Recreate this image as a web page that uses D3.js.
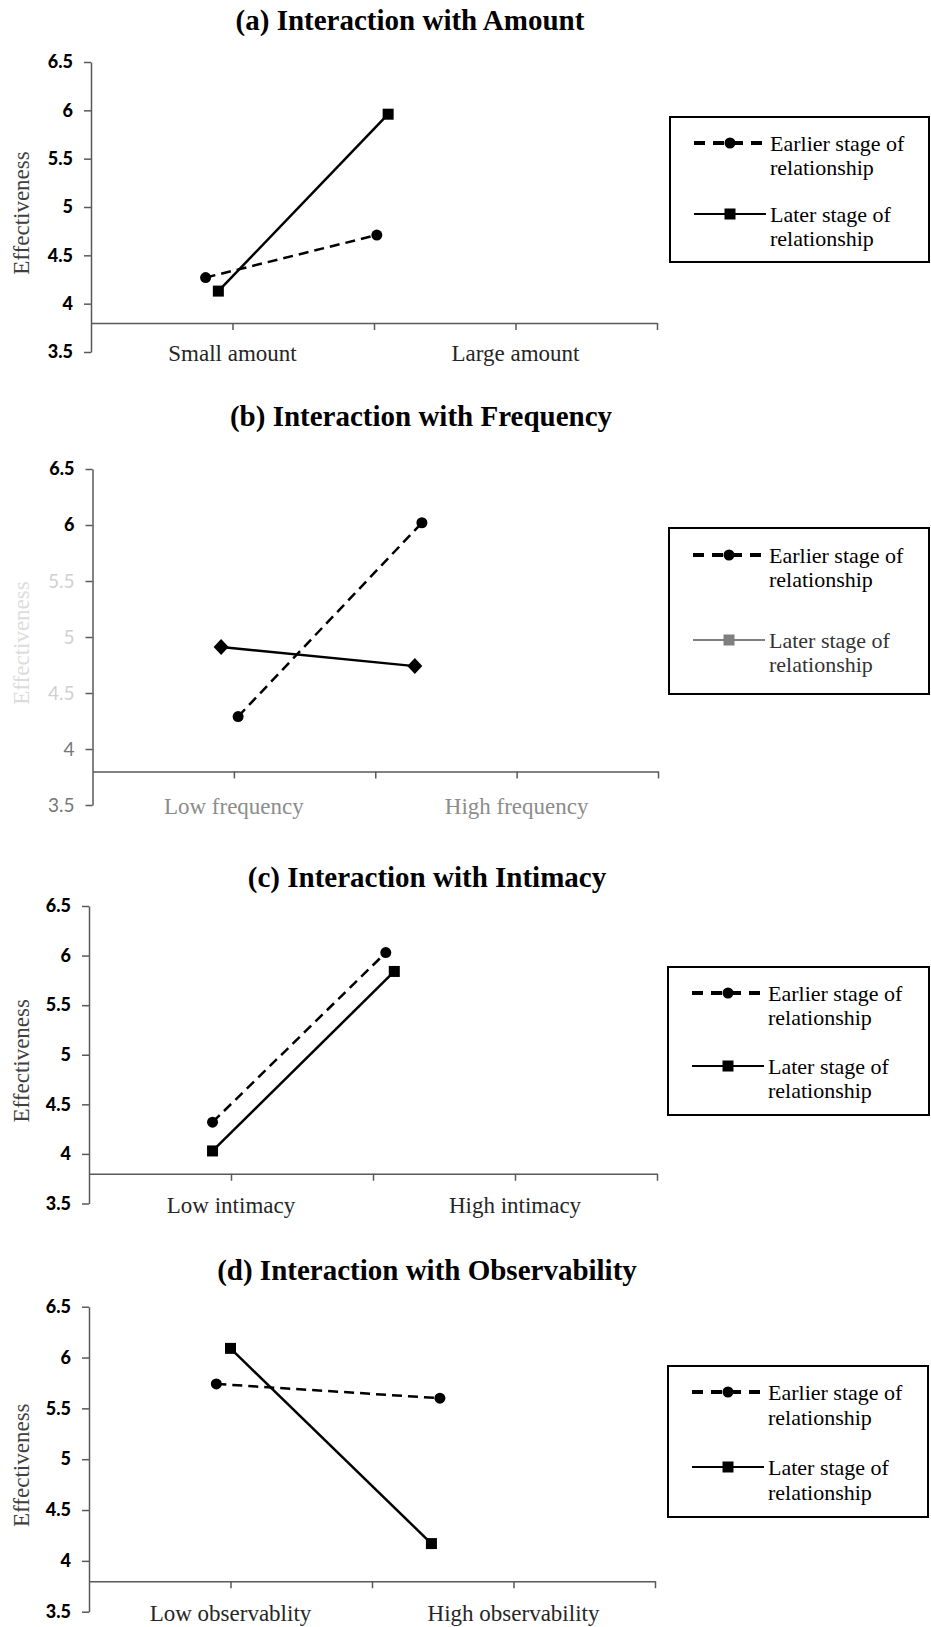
<!DOCTYPE html>
<html>
<head>
<meta charset="utf-8">
<style>
  body { margin: 0; background: #fff; }
  svg { display: block; }
</style>
<script src="https://cdn.jsdelivr.net/npm/d3@7"></script>
</head>
<body>
<script>
// values; x is given in category-slot units (labels sit on slots 1 and 3)
var titles = [
  "(a) Interaction with Amount",
  "(b) Interaction with Frequency",
  "(c) Interaction with Intimacy",
  "(d) Interaction with Observability"
];
var categories = [
  ["Small amount", "Large amount"],
  ["Low frequency", "High frequency"],
  ["Low intimacy", "High intimacy"],
  ["Low observablity", "High observability"]
];
var yTicks = [3.5, 4, 4.5, 5, 5.5, 6, 6.5];
var yLabel = "Effectiveness";
var legendLabels = [["Earlier stage of", "relationship"], ["Later stage of", "relationship"]];

var earlierX = [[0.81, 2.02], [1.03, 2.33], [0.87, 2.09], [0.90, 2.48]];
var earlierY = [[4.27, 4.71], [4.29, 6.02], [4.32, 6.03], [5.74, 5.60]];
var laterX   = [[0.90, 2.10], [0.91, 2.28], [0.87, 2.15], [1.00, 2.42]];
var laterY   = [[4.13, 5.96], [4.91, 4.74], [4.03, 5.84], [6.09, 4.17]];

// where each panel sits on the page
var layout = [
  {top: 62, bottom: 352, left: 91, right: 657, tx: 410, ty: 30,
   lg: {x: 670, y: 117, w: 259, h: 145, r1: 26, r2: 97, gap: 24}},
  {top: 469, bottom: 805, left: 92.5, right: 658, tx: 421, ty: 426, faded: true, diamond: true,
   lg: {x: 669, y: 528, w: 260, h: 166, r1: 27, r2: 112, gap: 24}},
  {top: 906, bottom: 1203.5, left: 89, right: 657, tx: 427, ty: 887,
   lg: {x: 668, y: 967, w: 261, h: 148, r1: 26, r2: 99, gap: 24}},
  {top: 1306.7, bottom: 1611.7, left: 89, right: 655, tx: 427, ty: 1280,
   lg: {x: 668, y: 1366, w: 260, h: 151, r1: 26, r2: 101, gap: 25}}
];

var W = 931, H = 1627;
var serif = "'Liberation Serif', 'Times New Roman', serif";
var axisCol = "#595959";

var svg = d3.select("body").append("svg")
    .attr("width", W)
    .attr("height", H);
svg.append("rect").attr("width", W).attr("height", H).attr("fill", "#fff");

function square(g, cx, cy, s, col) {
  g.append("rect").attr("x", cx - s / 2).attr("y", cy - s / 2)
    .attr("width", s).attr("height", s).attr("fill", col);
}
function diamond(g, cx, cy, col) {
  g.append("path")
    .attr("d", "M" + cx + "," + (cy - 8) + "L" + (cx + 7.5) + "," + cy +
               "L" + cx + "," + (cy + 8) + "L" + (cx - 7.5) + "," + cy + "Z")
    .attr("fill", col);
}

layout.forEach(function (L, i) {
  var g = svg.append("g");
  var x = d3.scaleLinear().domain([0, 4]).range([L.left, L.right]);
  var y = d3.scaleLinear().domain([3.5, 6.5]).range([L.bottom, L.top]);

  // title
  g.append("text")
    .attr("x", L.tx).attr("y", L.ty)
    .attr("text-anchor", "middle")
    .style("font-family", serif).style("font-weight", "bold").style("font-size", "29px")
    .text(titles[i]);

  // y axis
  var ya = g.append("g")
    .attr("transform", "translate(" + L.left + ",0)")
    .call(d3.axisLeft(y).tickValues(yTicks).tickSize(7).tickSizeOuter(0)
      .tickPadding(11).tickFormat(String));
  ya.select(".domain").attr("stroke", axisCol).attr("stroke-width", 1.5);
  ya.selectAll(".tick line").attr("stroke", axisCol).attr("stroke-width", 1.5);
  ya.selectAll(".tick text")
    .style("font-family", "Lato, 'Open Sans', sans-serif")
    .style("font-size", function (d) { return L.faded && d < 6 ? "19px" : "18px"; })
    .style("font-weight", function (d) { return L.faded && d < 6 ? "normal" : "900"; })
    .attr("fill", function (d) {
      if (!L.faded || d >= 6) return "#000";
      return d >= 4.5 ? "#d0d0d0" : "#777";
    });

  // category axis, crossing at 3.8
  var xa = g.append("g")
    .attr("transform", "translate(0," + y(3.8) + ")")
    .call(d3.axisBottom(x).tickValues([1, 2, 3, 4]).tickSize(7).tickSizeOuter(0).tickFormat(""));
  xa.select(".domain").attr("stroke", axisCol).attr("stroke-width", 1.5);
  xa.selectAll(".tick line").attr("stroke", axisCol).attr("stroke-width", 1.5);

  g.selectAll(".cat")
    .data(categories[i])
    .join("text")
    .attr("class", "cat")
    .attr("x", function (d, j) { return x(1 + 2 * j); })
    .attr("y", L.bottom + 1)
    .attr("dy", "0.35em")
    .attr("text-anchor", "middle")
    .attr("fill", L.faded ? "#8c8c8c" : "#262626")
    .style("font-family", serif).style("font-size", "23px")
    .text(function (d) { return d; });

  // y axis title
  var ym = (L.top + L.bottom) / 2 + 6;
  g.append("text")
    .attr("transform", "translate(21," + ym + ") rotate(-90)")
    .attr("text-anchor", "middle")
    .attr("dy", "0.35em")
    .attr("fill", L.faded ? "#dcdcdc" : "#404040")
    .style("font-family", serif).style("font-size", "23px")
    .text(yLabel);

  // series
  var line = d3.line().x(function (d) { return x(d[0]); }).y(function (d) { return y(d[1]); });
  var ePts = d3.zip(earlierX[i], earlierY[i]);
  var lPts = d3.zip(laterX[i], laterY[i]);

  g.append("path").attr("d", line(lPts))
    .attr("fill", "none").attr("stroke", "#000").attr("stroke-width", 2.5);
  g.append("path").attr("d", line(ePts))
    .attr("fill", "none").attr("stroke", "#000").attr("stroke-width", 2.5)
    .attr("stroke-dasharray", "10,6");

  ePts.forEach(function (p) {
    g.append("circle").attr("cx", x(p[0])).attr("cy", y(p[1])).attr("r", 5.5).attr("fill", "#000");
  });
  lPts.forEach(function (p) {
    if (L.diamond) diamond(g, x(p[0]), y(p[1]), "#000");
    else square(g, x(p[0]), y(p[1]), 11, "#000");
  });

  // legend
  var lg = L.lg;
  g.append("rect")
    .attr("x", lg.x).attr("y", lg.y).attr("width", lg.w).attr("height", lg.h)
    .attr("fill", "#fff").attr("stroke", "#000").attr("stroke-width", 2);

  [0, 1].forEach(function (k) {
    var ly = lg.y + (k === 0 ? lg.r1 : lg.r2);
    var col = (L.faded && k === 1) ? "#7f7f7f" : "#000";
    var txtCol = (L.faded && k === 1) ? "#333" : "#000";
    var x0 = lg.x + 24, x1 = lg.x + 96, mx = lg.x + 60;
    var ln = g.append("line").attr("x1", x0).attr("x2", x1).attr("y1", ly).attr("y2", ly)
      .attr("stroke", col);
    if (k === 0) {
      ln.attr("stroke-width", 4).attr("stroke-dasharray", "11,8");
      g.append("circle").attr("cx", mx).attr("cy", ly).attr("r", 5.5).attr("fill", col);
    } else {
      ln.attr("stroke-width", 2);
      square(g, mx, ly, 11, col);
    }
    legendLabels[k].forEach(function (t, m) {
      g.append("text")
        .attr("x", lg.x + 100).attr("y", ly + m * lg.gap)
        .attr("dy", "0.35em")
        .attr("fill", txtCol)
        .style("font-family", serif).style("font-size", "22px")
        .text(t);
    });
  });
});
</script>
</body>
</html>
